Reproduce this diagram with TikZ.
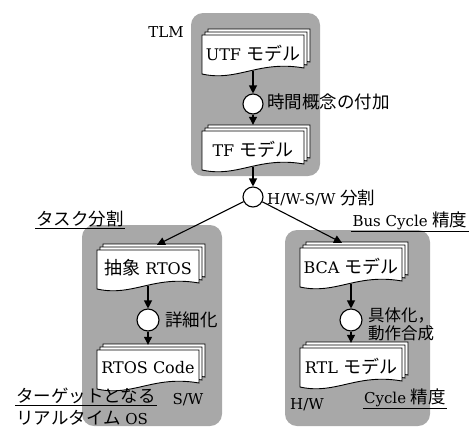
\documentclass[tikz,border=0pt]{standalone}
\usepackage{fontspec}
\setmainfont{DejaVu Serif}
\newfontfamily\cjk{Noto Sans CJK JP}
\usetikzlibrary{arrows.meta,calc}
\definecolor{panel}{RGB}{168,168,168}
\newcommand\doctextfont{\fontsize{16}{18}\selectfont}
\newcommand\lblfont{\fontsize{15}{17}\selectfont}
\newcommand\bj[1]{{\cjk\fontsize{18}{20}\selectfont #1}}
\newcommand\lj[1]{{\cjk\fontsize{17.5}{20}\selectfont #1}}
\newcommand{\docpage}[2]{%
  \draw[page] ({#1},{#2}) -- ({#1+102},{#2}) -- ({#1+102},{#2+33})
    .. controls ({#1+56},{#2+25}) and ({#1+36},{#2+47}) .. ({#1},{#2+39}) -- cycle;}
\newcommand{\docnode}[4]{%
  \docpage{#2-45}{#3-24}%
  \docpage{#2-48}{#3-21}%
  \docpage{#2-51}{#3-18}%
  \node[docbox] (#1) at (#2,#3) {#4};}
\begin{document}
\begin{tikzpicture}[x=1pt,y=-1pt,
  uline/.style={line width=0.8pt},
  arr/.style={line width=1.1pt,-{Triangle[width=8pt,length=8pt]}},
  page/.style={draw=black,line width=0.9pt,fill=white},
  docbox/.style={minimum width=102pt,minimum height=36pt,inner sep=0pt,font=\doctextfont},
  stepcircle/.style={circle,draw,line width=1.1pt,fill=white,inner sep=0pt},
  lbl/.style={font=\lblfont,inner sep=1pt},
  panelbox/.style={fill=panel,rounded corners=12pt},
]
\useasboundingbox (0,0) rectangle (473,429);
% panels
\fill[panelbox] (191,13) rectangle (320,176);
\fill[panelbox] (82,225) rectangle (222,426);
\fill[panelbox] (285,230) rectangle (430,426);
% documents
\docnode{utf}{253}{53}{UTF \bj{モデル}}
\docnode{tf}{253}{149}{TF \bj{モデル}}
\docnode{abs}{148}{268}{\bj{抽象} RTOS}
\docnode{code}{148}{368}{RTOS Code}
\docnode{bca}{351}{266}{BCA \bj{モデル}}
\docnode{rtl}{351}{366}{RTL \bj{モデル}}
% circles
\node[stepcircle,minimum size=20pt] (c1) at (253,104) {};
\node[stepcircle,minimum size=20pt] (split) at (253,197) {};
\node[stepcircle,minimum size=22pt] (c2) at (148,320) {};
\node[stepcircle,minimum size=22pt] (c3) at (351,320) {};
% arrows
\draw[arr] (utf.south) -- (c1);
\draw[arr] (c1) -- ([yshift=6pt]tf.north);
\draw[arr] (tf.south) -- (split);
\draw[arr] (split) -- ([xshift=9pt,yshift=5pt]abs.north);
\draw[arr] (split) -- ([xshift=-9pt,yshift=5pt]bca.north);
\draw[arr] (abs.south) -- (c2);
\draw[arr] (c2) -- ([yshift=5pt]code.north);
\draw[arr] (bca.south) -- (c3);
\draw[arr] (c3) -- ([yshift=5pt]rtl.north);
% labels
\node[lbl] (tlm) at (166,32) {TLM};
\node[lbl,anchor=west] (t1) at (266,102) {\lj{時間概念の付加}};
\node[lbl,anchor=west] (t2) at (266,198) {H/W-S/W \lj{分割}};
\node[lbl,anchor=west] (t3) at (164,320) {\lj{詳細化}};
\node[lbl,anchor=west,align=left,font=\cjk\fontsize{16.5}{18}\selectfont] (t4) at (367,324) {具体化，\\動作合成};
\node[lbl] (task) at (80,219) {\lj{タスク分割}};
\draw[uline] (task.south west) -- (task.south east);
\node[lbl] (bus) at (410,221) {Bus Cycle \lj{精度}};
\draw[uline] (bus.south west) -- (bus.south east);
\node[lbl] (cyc) at (405,398) {Cycle \lj{精度}};
\draw[uline] (cyc.south west) -- (cyc.south east);
\node[lbl] (hw) at (307,405) {H/W};
\node[lbl] (sw) at (188,400) {S/W};
\node[lbl,anchor=west] (tg1) at (15,396) {\lj{ターゲットとなる}};
\draw[uline] (tg1.south west) -- (tg1.south east);
\node[lbl,anchor=west] (tg2) at (15,418) {\lj{リアルタイム} OS};
\end{tikzpicture}
\end{document}
